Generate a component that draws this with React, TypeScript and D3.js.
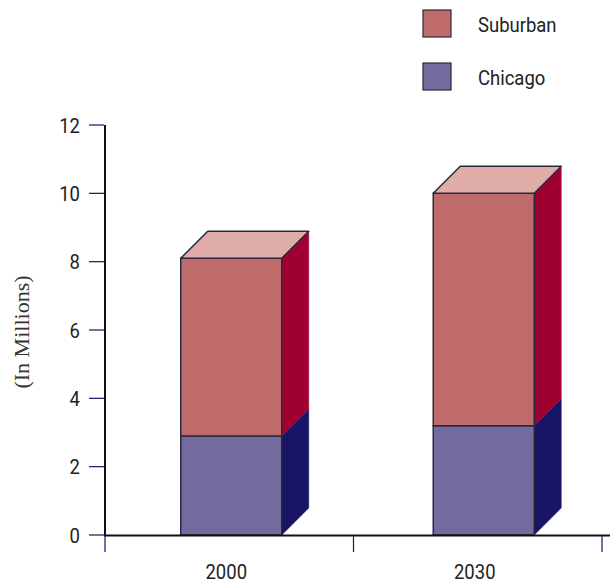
import React from 'react'
import * as d3 from 'd3'

// data (millions)
const years = ['2000', '2030']
const chicago = [2.9, 3.2]
const suburban = [5.2, 6.8]
const yTicks = [0, 2, 4, 6, 8, 10, 12]
const legendItems = ['Suburban', 'Chicago']

const W = 610
const H = 583
const DEPTH = 27
const NUM_FONT = "Roboto, 'Liberation Sans', sans-serif"

const colors = {
    Suburban: { front: '#bf6b6b', side: '#a00030', top: '#dfaca7' },
    Chicago: { front: '#736b9e', side: '#1a1466', top: '#9a93c0' },
}
const EDGE = '#2a2840'
const NAVY = '#1a1466'

// condensed-looking label: Roboto squeezed horizontally
const Label = ({ x, y, anchor = 'start', dy = null, children }) => (
    <text
        transform={`translate(${x}, ${y}) scale(0.88, 1)`}
        dy={dy}
        textAnchor={anchor}
        fontFamily={NUM_FONT}
        fontSize={21}
        fill='#222'
    >
        {children}
    </text>
)

const Bar3D = ({ x0, w, yBot, yTop, c, showTop }) => {
    const x1 = x0 + w
    const front = `M${x0},${yBot}L${x1},${yBot}L${x1},${yTop}L${x0},${yTop}Z`
    const side = `M${x1},${yBot}L${x1 + DEPTH},${yBot - DEPTH}L${x1 + DEPTH},${yTop - DEPTH}L${x1},${yTop}Z`
    const top = `M${x0},${yTop}L${x0 + DEPTH},${yTop - DEPTH}L${x1 + DEPTH},${yTop - DEPTH}L${x1},${yTop}Z`
    return (
        <g>
            <path d={side} fill={c.side} stroke={c.side} strokeWidth={0.5} />
            <path d={front} fill={c.front} stroke={EDGE} strokeWidth={1.5} />
            {showTop && <path d={top} fill={c.top} stroke={EDGE} strokeWidth={1.5} strokeLinejoin='round' />}
        </g>
    )
}

const App = () => {
    const y = d3.scaleLinear().domain([0, 12]).range([535, 125])
    const x = d3.scaleBand().domain(years).range([105, 610]).paddingInner(0.6).paddingOuter(0.3)
    const xEdges = d3.scaleLinear().domain([0, years.length]).range([105, 602])

    const stacked = d3.stack().keys(['Chicago', 'Suburban'])(
        years.map((yr, i) => ({ year: yr, Chicago: chicago[i], Suburban: suburban[i] }))
    )

    return (
        <svg width={W} height={H} style={{ position: 'absolute', left: 0, top: 0 }}>
            {/* bars */}
            {years.map((yr, i) => (
                <g key={yr}>
                    {stacked.map((s, k) => (
                        <Bar3D
                            key={s.key}
                            x0={x(yr)}
                            w={x.bandwidth()}
                            yBot={y(s[i][0])}
                            yTop={y(s[i][1])}
                            c={colors[s.key]}
                            showTop={k === stacked.length - 1}
                        />
                    ))}
                </g>
            ))}

            {/* y axis */}
            <line x1={105} x2={105} y1={125} y2={536} stroke='#111' strokeWidth={2} />
            {yTicks.map(t => (
                <g key={t}>
                    <line x1={89} x2={104} y1={y(t)} y2={y(t)} stroke={NAVY} strokeWidth={1.2} />
                    <Label x={80} y={y(t)} anchor='end' dy='0.36em'>{t}</Label>
                </g>
            ))}
            <text
                transform={`translate(29, ${y(6) + 2}) rotate(-90)`}
                textAnchor='middle'
                fontFamily="'Liberation Serif', 'DejaVu Serif', serif"
                fontSize={22}
                fill='#333'
            >
                (In Millions)
            </text>

            {/* x axis */}
            <line x1={104} x2={610} y1={535.5} y2={535.5} stroke='#111' strokeWidth={2} />
            {d3.range(years.length + 1).map(i => (
                <line key={i} x1={xEdges(i)} x2={xEdges(i)} y1={536} y2={552} stroke={NAVY} strokeWidth={1.2} />
            ))}
            {years.map((yr, i) => (
                <Label key={yr} x={(xEdges(i) + xEdges(i + 1)) / 2 - 3} y={579} anchor='middle'>
                    {yr}
                </Label>
            ))}

            {/* legend */}
            {legendItems.map((name, i) => (
                <g key={name} transform={`translate(423, ${10 + i * 53})`}>
                    <rect width={28} height={27} fill={colors[name].front} stroke={EDGE} strokeWidth={1.2} />
                    <Label x={55} y={22}>{name}</Label>
                </g>
            ))}
        </svg>
    )
}

export default App
